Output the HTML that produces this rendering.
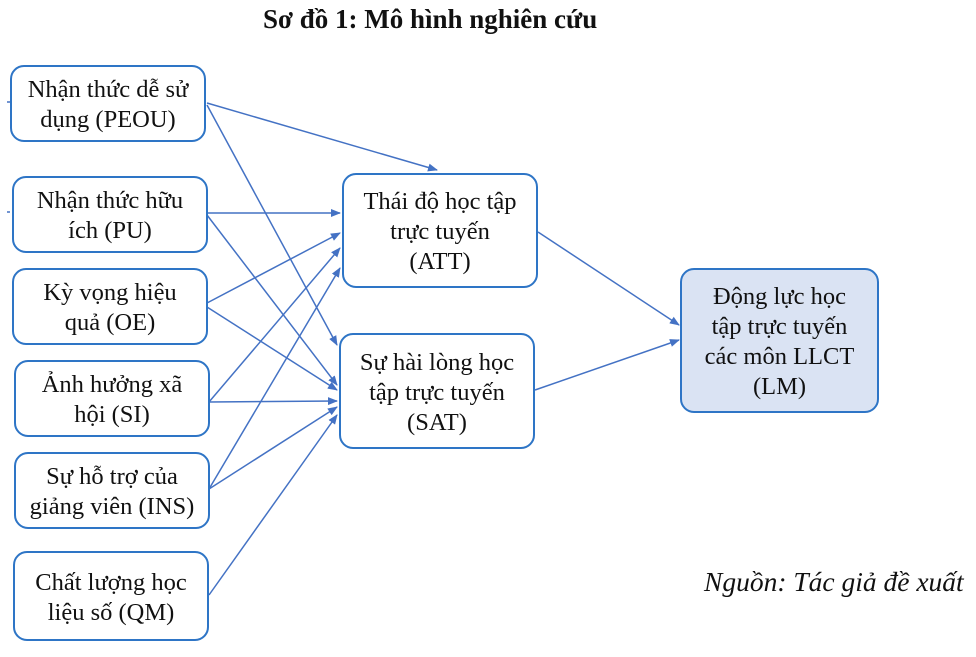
<!DOCTYPE html>
<html><head><meta charset="utf-8"><style>
body{margin:0;width:976px;height:657px;background:#fff;overflow:hidden;font-family:"Liberation Serif",serif;}
.t{position:absolute;color:#111;white-space:nowrap;}
.b{position:absolute;box-sizing:border-box;border:2px solid #2e75c6;border-radius:14px;background:#fff;display:flex;align-items:center;justify-content:center;text-align:center;font-size:24.5px;line-height:30px;color:#111;white-space:nowrap;padding-top:3px;}
svg{position:absolute;left:0;top:0}
</style></head><body>
<div class="t" style="left:263px;top:4px;font-weight:bold;font-size:27px;">Sơ đồ 1: Mô hình nghiên cứu</div>
<svg width="976" height="657">
<defs><marker id="a" markerWidth="10" markerHeight="8" refX="9" refY="4" orient="auto" markerUnits="userSpaceOnUse"><path d="M0,0 L10,4 L0,8 Z" fill="#4472c4"/></marker></defs>
<g stroke="#4472c4" stroke-width="1.5" fill="none" marker-end="url(#a)">
<line x1="207" y1="103" x2="437" y2="170"/>
<line x1="207" y1="105" x2="337" y2="345"/>
<line x1="207" y1="213" x2="340" y2="213"/>
<line x1="207" y1="215" x2="337" y2="385"/>
<line x1="207" y1="303" x2="340" y2="233"/>
<line x1="207" y1="307" x2="337" y2="390"/>
<line x1="209" y1="402" x2="340" y2="248"/>
<line x1="209" y1="402" x2="337" y2="401"/>
<line x1="209" y1="489" x2="340" y2="268"/>
<line x1="209" y1="489" x2="337" y2="407"/>
<line x1="209" y1="595" x2="337" y2="415"/>
<line x1="538" y1="232" x2="679" y2="325"/>
<line x1="535" y1="390" x2="679" y2="340"/>
</g>
<path d="M7,102 h3 M7,212 h3" stroke="#4472c4" stroke-width="1.4"/>
</svg>
<div class="b" style="left:10px;top:65px;width:196px;height:77px;">Nhận thức dễ sử<br>dụng (PEOU)</div>
<div class="b" style="left:12px;top:176px;width:196px;height:77px;">Nhận thức hữu<br>ích (PU)</div>
<div class="b" style="left:12px;top:268px;width:196px;height:77px;">Kỳ vọng hiệu<br>quả (OE)</div>
<div class="b" style="left:14px;top:360px;width:196px;height:77px;">Ảnh hưởng xã<br>hội (SI)</div>
<div class="b" style="left:14px;top:452px;width:196px;height:77px;">Sự hỗ trợ của<br>giảng viên (INS)</div>
<div class="b" style="left:13px;top:551px;width:196px;height:90px;">Chất lượng học<br>liệu số (QM)</div>
<div class="b" style="left:342px;top:173px;width:196px;height:115px;">Thái độ học tập<br>trực tuyến<br>(ATT)</div>
<div class="b" style="left:339px;top:333px;width:196px;height:116px;">Sự hài lòng học<br>tập trực tuyến<br>(SAT)</div>
<div class="b" style="left:680px;top:268px;width:199px;height:145px;background:#dae3f3;">Động lực học<br>tập trực tuyến<br>các môn LLCT<br>(LM)</div>
<div class="t" style="left:704px;top:566px;font-style:italic;font-size:27.5px;">Nguồn: Tác giả đề xuất</div>
</body></html>
